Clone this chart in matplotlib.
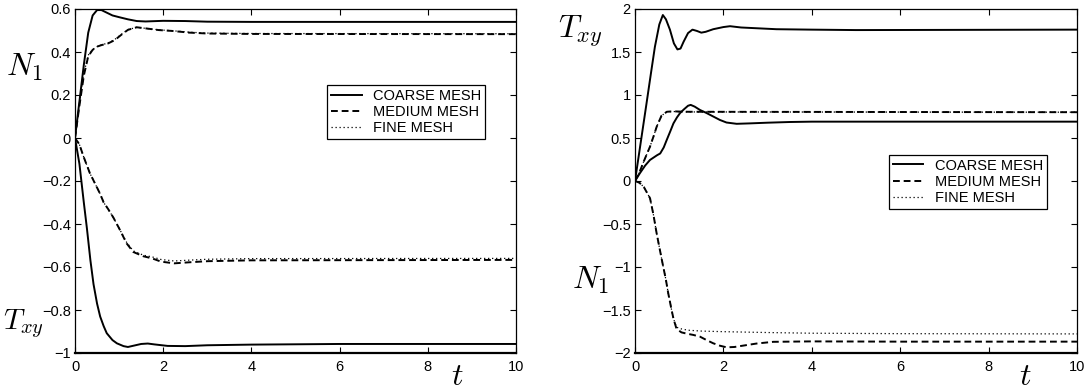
# Two panels of stress components vs time for three mesh sizes
import matplotlib.pyplot as plt

plt.rcParams['font.family'] = ['Liberation Sans', 'DejaVu Sans']
plt.rcParams['mathtext.fontset'] = 'cm'

# ---- left panel data ----
l_n1_coarse_t = [0, 0.1, 0.2, 0.3, 0.4, 0.5, 0.6, 0.7, 0.85, 1.0, 1.2, 1.4, 1.6, 2.0, 2.5, 3.0, 4.0, 10]
l_n1_coarse_v = [0, 0.17, 0.34, 0.49, 0.57, 0.595, 0.595, 0.585, 0.57, 0.562, 0.552, 0.544, 0.542, 0.545,
                 0.544, 0.541, 0.540, 0.540]
l_n1_med_t = [0, 0.1, 0.2, 0.3, 0.4, 0.5, 0.6, 0.75, 0.9, 1.05, 1.2, 1.4, 1.6, 1.9, 2.2, 2.6, 3.0, 4.0, 10]
l_n1_med_v = [0, 0.15, 0.29, 0.38, 0.41, 0.425, 0.432, 0.44, 0.455, 0.48, 0.503, 0.515, 0.51, 0.502,
              0.498, 0.49, 0.486, 0.484, 0.483]
l_n1_fine_v = [0, 0.16, 0.30, 0.385, 0.412, 0.425, 0.433, 0.442, 0.458, 0.482, 0.504, 0.515, 0.51, 0.503,
               0.499, 0.492, 0.488, 0.486, 0.485]

l_txy_coarse_t = [0, 0.1, 0.2, 0.27, 0.35, 0.42, 0.5, 0.57, 0.65, 0.72, 0.85, 0.95, 1.1, 1.2, 1.35, 1.5,
                  1.65, 1.8, 2.1, 2.5, 3.0, 4.0, 6.0, 10]
l_txy_coarse_v = [0, -0.12, -0.30, -0.42, -0.57, -0.68, -0.77, -0.83, -0.875, -0.908, -0.94, -0.955,
                  -0.968, -0.972, -0.965, -0.958, -0.956, -0.96, -0.967, -0.968, -0.964, -0.961, -0.958, -0.958]
l_txy_med_t = [0, 0.1, 0.2, 0.34, 0.45, 0.57, 0.65, 0.75, 0.87, 1.0, 1.17, 1.32, 1.55, 1.75, 1.95, 2.25,
               2.6, 3.0, 4.0, 10]
l_txy_med_v = [0, -0.03, -0.09, -0.165, -0.21, -0.26, -0.30, -0.33, -0.37, -0.42, -0.49, -0.53, -0.55,
               -0.56, -0.575, -0.583, -0.578, -0.573, -0.569, -0.567]
l_txy_fine_v = [0, -0.03, -0.09, -0.165, -0.21, -0.26, -0.30, -0.33, -0.37, -0.42, -0.485, -0.525, -0.545,
                -0.553, -0.565, -0.572, -0.568, -0.564, -0.561, -0.56]

# ---- right panel data ----
r_txy_coarse_t = [0, 0.13, 0.26, 0.36, 0.45, 0.55, 0.63, 0.7, 0.79, 0.88, 0.96, 1.03, 1.1, 1.2, 1.3, 1.4,
                  1.5, 1.6, 1.77, 2.0, 2.15, 2.4, 2.8, 3.2, 4.0, 5.0, 10]
r_txy_coarse_v = [0, 0.45, 0.90, 1.25, 1.56, 1.82, 1.93, 1.88, 1.76, 1.60, 1.53, 1.54, 1.62, 1.72, 1.76,
                  1.745, 1.725, 1.735, 1.765, 1.79, 1.80, 1.785, 1.775, 1.765, 1.76, 1.755, 1.76]
r_low_coarse_t = [0, 0.11, 0.23, 0.34, 0.5, 0.57, 0.65, 0.72, 0.8, 0.87, 0.95, 1.02, 1.1, 1.2, 1.26, 1.35,
                  1.47, 1.62, 1.77, 1.92, 2.07, 2.3, 2.6, 3.0, 3.5, 4.0, 10]
r_low_coarse_v = [0, 0.09, 0.18, 0.245, 0.30, 0.32, 0.39, 0.48, 0.58, 0.67, 0.74, 0.79, 0.83, 0.875,
                  0.885, 0.865, 0.826, 0.79, 0.75, 0.71, 0.68, 0.665, 0.67, 0.678, 0.686, 0.69, 0.69]
r_txy_med_t = [0, 0.1, 0.2, 0.34, 0.42, 0.49, 0.6, 0.72, 0.85, 1.2, 10]
r_txy_med_v = [0, 0.10, 0.23, 0.40, 0.52, 0.63, 0.76, 0.805, 0.81, 0.805, 0.80]
r_txy_fine_v = [0, 0.10, 0.23, 0.40, 0.52, 0.63, 0.76, 0.803, 0.808, 0.803, 0.80]

r_n1_med_t = [0, 0.1, 0.2, 0.34, 0.42, 0.49, 0.57, 0.64, 0.7, 0.75, 0.82, 0.87, 0.94, 1.05, 1.17, 1.32,
              1.47, 1.62, 1.77, 1.92, 2.07, 2.25, 2.4, 2.75, 3.13, 4.0, 6.0, 10]
r_n1_med_v = [0, -0.02, -0.07, -0.2, -0.4, -0.61, -0.82, -1.0, -1.15, -1.3, -1.48, -1.6, -1.72, -1.76,
              -1.775, -1.79, -1.81, -1.85, -1.887, -1.915, -1.934, -1.93, -1.918, -1.89, -1.87, -1.865,
              -1.868, -1.868]
r_n1_fine_t = [0, 0.1, 0.2, 0.34, 0.42, 0.49, 0.57, 0.64, 0.7, 0.75, 0.82, 0.87, 0.94, 1.05, 1.2, 1.5,
               2.0, 3.0, 4.0, 6.0, 10]
r_n1_fine_v = [0, -0.02, -0.07, -0.2, -0.4, -0.61, -0.82, -1.0, -1.15, -1.3, -1.48, -1.6, -1.70, -1.72,
               -1.735, -1.745, -1.752, -1.762, -1.77, -1.775, -1.778]

labels = ["COARSE MESH", "MEDIUM MESH", "FINE MESH"]

solid = dict(color='black', lw=1.4, ls='-')
dashed = dict(color='black', lw=1.4, ls=(0, (3.5, 2.0)))
dotted = dict(color='black', lw=0.9, ls=(0, (1, 2.2)))

fig = plt.figure(figsize=(10.85, 3.92), dpi=100)
ax1 = fig.add_axes([75 / 1085, 1 - 353 / 392, 441 / 1085, 344 / 392])
ax2 = fig.add_axes([635 / 1085, 1 - 353 / 392, 442 / 1085, 344 / 392])

# left
ax1.plot(l_n1_coarse_t, l_n1_coarse_v, label=labels[0], **solid)
ax1.plot(l_n1_med_t, l_n1_med_v, label=labels[1], **dashed)
ax1.plot(l_n1_med_t, l_n1_fine_v, label=labels[2], **dotted)
ax1.plot(l_txy_coarse_t, l_txy_coarse_v, **solid)
ax1.plot(l_txy_med_t, l_txy_med_v, **dashed)
ax1.plot(l_txy_med_t, l_txy_fine_v, **dotted)
ax1.set_ylim(-1, 0.6)
ax1.set_yticks([-1, -0.8, -0.6, -0.4, -0.2, 0, 0.2, 0.4, 0.6])

# right
ax2.plot(r_txy_coarse_t, r_txy_coarse_v, label=labels[0], **solid)
ax2.plot(r_txy_med_t, r_txy_med_v, label=labels[1], **dashed)
ax2.plot(r_n1_fine_t, r_n1_fine_v, label=labels[2], **dotted)
ax2.plot(r_low_coarse_t, r_low_coarse_v, **solid)
ax2.plot(r_txy_med_t, r_txy_fine_v, **dotted)
ax2.plot(r_n1_med_t, r_n1_med_v, **dashed)
ax2.set_ylim(-2, 2)
ax2.set_yticks([-2, -1.5, -1, -0.5, 0, 0.5, 1, 1.5, 2])

for ax in (ax1, ax2):
    ax.set_xlim(0, 10)
    ax.set_xticks([0, 2, 4, 6, 8, 10])
    ax.tick_params(direction='in', top=True, right=True, length=4, width=0.8,
                   labelsize=10.5, pad=3)
    ax.tick_params(axis='x', pad=5)
    for s in ax.spines.values():
        s.set_linewidth(0.9)
    ax.spines['bottom'].set_linewidth(1.6)
    ax.yaxis.set_major_formatter(plt.FuncFormatter(
        lambda v, p: ('%g' % v).replace('-', '\u2212')))

leg_kw = dict(loc='upper right', fancybox=False, edgecolor='black', framealpha=1,
              fontsize=10.5, handlelength=2.1, handletextpad=0.8, labelspacing=0.15,
              borderpad=0.25, borderaxespad=0)
l1 = ax1.legend(bbox_to_anchor=(0.93, 0.779), **leg_kw)
l2 = ax2.legend(bbox_to_anchor=(0.932, 0.576), **leg_kw)
for lg in (l1, l2):
    lg.get_frame().set_linewidth(0.9)

def px_text(x, y, s, size=23):
    fig.text(x / 1085, 1 - y / 392, s, ha='center', va='center', fontsize=size)

px_text(25, 67, r'$N_1$')
px_text(23, 324, r'$T_{xy}$', 21)
px_text(457, 377, r'$t$')
px_text(580, 31, r'$T_{xy}$')
px_text(591, 280, r'$N_1$')
px_text(1025, 377, r'$t$')

fig.savefig('out.png', dpi=100)
